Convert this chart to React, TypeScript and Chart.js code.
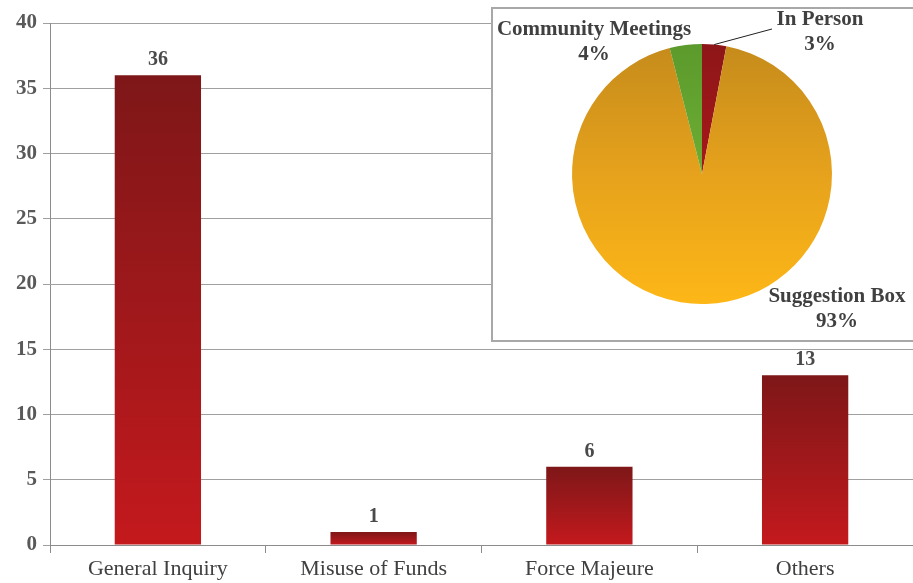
import React, { useEffect, useRef } from "react";
import { Chart, registerables } from "chart.js";

Chart.register(...registerables);

const categories = ["General Inquiry", "Misuse of Funds", "Force Majeure", "Others"];
const counts = [36, 1, 6, 13];
const yMin = 0;
const yMax = 40;
const yStep = 5;

const channelLabels = ["In Person", "Suggestion Box", "Community Meetings"];
const channelShares = [3, 93, 4];

const FONT = "'Liberation Serif', 'Times New Roman', serif";

const barLabelPlugin = {
  id: "barLabels",
  afterDatasetsDraw(chart: any) {
    const ctx = chart.ctx;
    const meta = chart.getDatasetMeta(0);
    ctx.save();
    ctx.font = `bold 20px ${FONT}`;
    ctx.fillStyle = "#4a4a4a";
    ctx.textAlign = "center";
    ctx.textBaseline = "alphabetic";
    meta.data.forEach((el: any, i: number) => {
      ctx.fillText(String(counts[i]), el.x, el.y - 10);
    });
    ctx.restore();
  },
};

// label placement offsets relative to pie centre (layout, not data)
const pieLabelLayout = [
  { dx: 118, dy: -154, leader: true },
  { dx: 135, dy: 123, leader: false },
  { dx: -108, dy: -144, leader: false },
];

const pieLabelPlugin = {
  id: "pieLabels",
  afterDatasetsDraw(chart: any) {
    const ctx = chart.ctx;
    const meta = chart.getDatasetMeta(0);
    const total = channelShares.reduce((a, b) => a + b, 0);
    ctx.save();
    ctx.font = `bold 21px ${FONT}`;
    ctx.fillStyle = "#404040";
    ctx.textAlign = "center";
    ctx.textBaseline = "middle";
    meta.data.forEach((arc: any, i: number) => {
      const cx = arc.x;
      const cy = arc.y;
      const lay = pieLabelLayout[i];
      const lx = cx + lay.dx;
      const ly = cy + lay.dy;
      const pct = Math.round((channelShares[i] / total) * 100) + "%";
      if (lay.leader) {
        const mid = (arc.startAngle + arc.endAngle) / 2;
        const r = arc.outerRadius;
        ctx.strokeStyle = "#202020";
        ctx.lineWidth = 1;
        ctx.beginPath();
        ctx.moveTo(cx + Math.cos(mid) * r, cy + Math.sin(mid) * r);
        ctx.lineTo(lx - 48, ly + 9);
        ctx.stroke();
      }
      ctx.fillText(channelLabels[i], lx, ly);
      ctx.fillText(pct, lx, ly + 25);
    });
    ctx.restore();
  },
};

export default function App() {
  const barRef = useRef<HTMLCanvasElement>(null);
  const pieRef = useRef<HTMLCanvasElement>(null);

  useEffect(() => {
    const bar = new Chart(barRef.current!, {
      type: "bar",
      data: {
        labels: categories,
        datasets: [
          {
            data: counts,
            barPercentage: 0.5,
            categoryPercentage: 0.8,
            backgroundColor: (c: any) => {
              const chart = c.chart;
              const { chartArea, scales } = chart;
              if (!chartArea || c.type !== "data" || !scales.y) return "#a01a1c";
              const top = scales.y.getPixelForValue(c.parsed.y);
              const bot = scales.y.getPixelForValue(0);
              if (!isFinite(top) || !isFinite(bot) || top === bot) return "#a01a1c";
              const g = chart.ctx.createLinearGradient(0, top, 0, bot);
              g.addColorStop(0, "#7e1718");
              g.addColorStop(0.55, "#a3181b");
              g.addColorStop(1, "#c4191d");
              return g;
            },
          },
        ],
      },
      options: {
        animation: false,
        responsive: false,
        events: [],
        layout: { padding: { top: 23, right: 0, left: 0, bottom: 0 } },
        plugins: { legend: { display: false }, tooltip: { enabled: false } },
        scales: {
          x: {
            grid: { drawOnChartArea: false, tickLength: 8, color: "#8c8c8c", offset: true },
            border: { color: "#8c8c8c" },
            ticks: { color: "#404040", font: { family: FONT, size: 22 }, padding: 3 },
            afterFit: (s: any) => {
              s.height = 38;
            },
          },
          y: {
            min: yMin,
            max: yMax,
            ticks: {
              stepSize: yStep,
              color: "#595959",
              font: { family: FONT, size: 21, weight: "bold" },
              padding: 6,
            },
            grid: { color: "#a0a0a0", tickLength: 7 },
            border: { color: "#8c8c8c" },
            afterFit: (s: any) => {
              s.width = 50;
            },
          },
        },
      },
      plugins: [barLabelPlugin],
    } as any);

    const pie = new Chart(pieRef.current!, {
      type: "pie",
      data: {
        labels: channelLabels,
        datasets: [
          {
            data: channelShares,
            borderWidth: 0,
            backgroundColor: (c: any) => {
              const chart = c.chart;
              const { chartArea } = chart;
              const i = c.dataIndex;
              if (!chartArea) return ["#b01a1c", "#eaa41c", "#6aad32"][i] || "#eaa41c";
              const g = chart.ctx.createLinearGradient(0, chartArea.top, 0, chartArea.bottom);
              if (i === 0) {
                g.addColorStop(0, "#8e1618");
                g.addColorStop(1, "#c0191c");
              } else if (i === 1) {
                g.addColorStop(0, "#c58b1b");
                g.addColorStop(0.5, "#e6a21c");
                g.addColorStop(1, "#fdb717");
              } else {
                g.addColorStop(0, "#5b9a2c");
                g.addColorStop(1, "#7fc13c");
              }
              return g;
            },
          },
        ],
      },
      options: {
        animation: false,
        responsive: false,
        events: [],
        layout: { padding: { top: 35, bottom: 36, left: 79, right: 81 } },
        plugins: { legend: { display: false }, tooltip: { enabled: false } },
      },
      plugins: [pieLabelPlugin],
    } as any);

    return () => {
      bar.destroy();
      pie.destroy();
    };
  }, []);

  return (
    <div
      style={{
        position: "fixed",
        left: 0,
        top: 0,
        width: 913,
        height: 583,
        overflow: "hidden",
        background: "#ffffff",
      }}
    >
      <canvas ref={barRef} width={913} height={583} style={{ position: "absolute", left: 0, top: 0 }} />
      <div
        style={{
          position: "absolute",
          left: 491,
          top: 7,
          width: 424,
          height: 335,
          boxSizing: "border-box",
          border: "2px solid #a8a8a8",
          background: "#ffffff",
        }}
      >
        <canvas ref={pieRef} width={420} height={331} style={{ display: "block" }} />
      </div>
    </div>
  );
}
